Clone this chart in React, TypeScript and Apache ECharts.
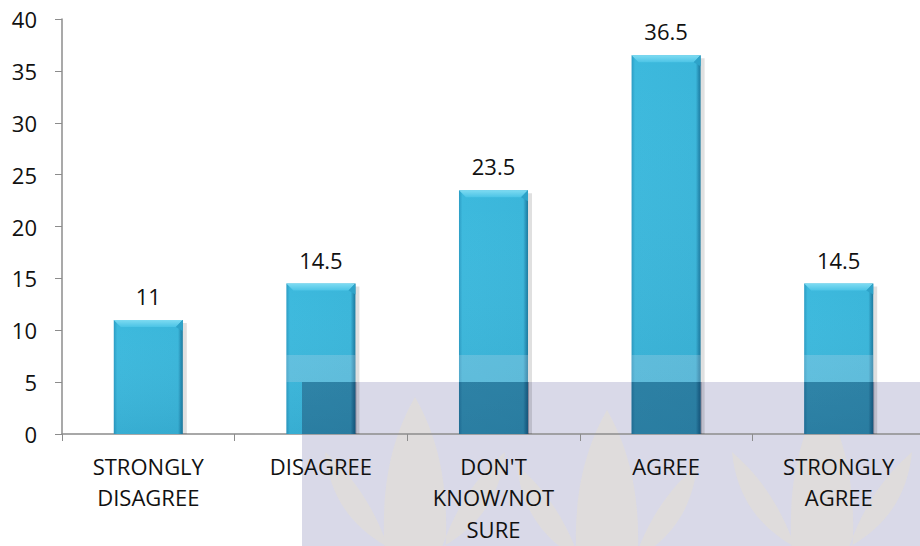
import React, { useEffect, useRef } from "react";
import * as echarts from "echarts";

const categories = ["STRONGLY\nDISAGREE", "DISAGREE", "DON'T\nKNOW/NOT\nSURE", "AGREE", "STRONGLY\nAGREE"];
const values = [11, 14.5, 23.5, 36.5, 14.5];
const yTicks = { min: 0, max: 40, interval: 5 };

const FONT = "'Open Sans', sans-serif";

// watermark boxes (page pixels)
const WM = { x: 302, y: 382, x2: 920, y2: 546 };
const BAND = { x: 285, y: 355, x2: 920, y2: 382 };

const LOTUS =
  "M0,0 C22,35 38,80 34,150 L-34,150 C-38,80 -22,35 0,0 Z " +
  "M-30,150 C-70,130 -95,100 -100,55 C-75,75 -50,100 -30,150 Z " +
  "M30,150 C70,130 95,100 100,55 C75,75 50,100 30,150 Z";

let registered = false;

export default function App() {
  const ref = useRef<HTMLDivElement>(null);
  useEffect(() => {
    if (!ref.current) return;
    if (!registered) {
      echarts.graphic.registerShape("logo", echarts.graphic.extendPath(LOTUS, {}) as any);
      registered = true;
    }
    const chart = echarts.init(ref.current, null, { renderer: "svg" });
    const lotusStyle = { fill: "#efe6c0", opacity: 0.3 };
    chart.setOption({
      animation: false,
      backgroundColor: "#ffffff",
      grid: { left: 62, top: 19, bottom: 112, right: -5, containLabel: false, outerBoundsMode: "none" },
      graphic: [
        {
          type: "rect",
          z: -10,
          shape: { x: WM.x, y: WM.y, width: WM.x2 - WM.x, height: WM.y2 - WM.y },
          style: { fill: "#d9d9e8" },
        },
        { type: "logo", z: -9, x: 415, y: 397, scaleX: 0.9, scaleY: 1.0, style: lotusStyle },
        { type: "logo", z: -9, x: 607, y: 410, scaleX: 0.9, scaleY: 1.0, style: lotusStyle },
        { type: "logo", z: -9, x: 822, y: 397, scaleX: 0.9, scaleY: 1.0, style: lotusStyle },
      ],
      xAxis: {
        type: "category",
        data: categories,
        axisLine: { show: true, lineStyle: { color: "#8c8c8c", width: 1.5 } },
        axisTick: { show: true, length: 7, alignWithLabel: false, lineStyle: { color: "#8c8c8c" } },
        axisLabel: {
          color: "#111",
          fontFamily: FONT,
          fontSize: 22,
          lineHeight: 31.5,
          margin: 16,
          interval: 0,
        },
        splitLine: { show: false },
      },
      yAxis: {
        type: "value",
        min: yTicks.min,
        max: yTicks.max,
        interval: yTicks.interval,
        axisLine: { show: true, lineStyle: { color: "#8c8c8c", width: 1.5 } },
        axisTick: { show: true, length: 7, lineStyle: { color: "#8c8c8c" } },
        axisLabel: { color: "#111", fontFamily: FONT, fontSize: 22, margin: 25 },
        splitLine: { show: false },
      },
      series: [
        {
          type: "custom",
          data: values.map((v, i) => [i, v]),
          renderItem: (params: any, api: any) => {
            const i = api.value(0);
            const v = api.value(1);
            const top = api.coord([i, v]);
            const base = api.coord([i, 0]);
            const bw = api.size([1, 0])[0] * 0.4;
            const x0 = top[0] - bw / 2;
            const x1 = top[0] + bw / 2;
            const y0 = top[1];
            const y1 = base[1];
            const b = 7;
            const children: any[] = [
              {
                type: "rect",
                shape: { x: x0 + 2, y: y0 + 3, width: bw + 2, height: y1 - y0 - 3 },
                style: { fill: "rgba(0,0,0,0.12)" },
              },
              {
                type: "rect",
                shape: { x: x0, y: y0, width: bw, height: y1 - y0 },
                style: {
                  fill: new echarts.graphic.LinearGradient(0, 0, 1, 0, [
                    { offset: 0, color: "#2a9cc4" },
                    { offset: 0.05, color: "#3cb9dd" },
                    { offset: 0.93, color: "#3ab6da" },
                    { offset: 0.97, color: "#2690b6" },
                    { offset: 1, color: "#1b7ba0" },
                  ]),
                },
              },
              {
                type: "rect",
                shape: { x: x0, y: y0, width: bw, height: y1 - y0 },
                style: {
                  fill: new echarts.graphic.LinearGradient(0, 0, 0, 1, [
                    { offset: 0, color: "rgba(255,255,255,0)" },
                    { offset: 1, color: "rgba(0,40,80,0.08)" },
                  ]),
                },
              },
              {
                type: "polygon",
                shape: { points: [[x0, y0], [x1, y0], [x1 - b, y0 + b], [x0 + b, y0 + b]] },
                style: {
                  fill: new echarts.graphic.LinearGradient(0, 0, 0, 1, [
                    { offset: 0, color: "#7edbf2" },
                    { offset: 1, color: "#4cc4e6" },
                  ]),
                },
              },
              {
                type: "polygon",
                shape: { points: [[x1, y0], [x1, y0 + b + 4], [x1 - b, y0 + b]] },
                style: { fill: "#2ea3c9" },
              },
            ];
            const bx0 = Math.max(x0, BAND.x), bx1 = Math.min(x1, BAND.x2);
            const by0 = Math.max(y0, BAND.y), by1 = Math.min(y1, BAND.y2);
            if (bx1 > bx0 && by1 > by0) {
              children.push({
                type: "rect",
                shape: { x: bx0, y: by0, width: bx1 - bx0, height: by1 - by0 },
                style: { fill: "rgba(225,225,235,0.22)" },
              });
            }
            const wx0 = Math.max(x0, WM.x), wx1 = Math.min(x1 + 1, WM.x2);
            const wy0 = Math.max(y0, WM.y), wy1 = Math.min(y1, WM.y2);
            if (wx1 > wx0 && wy1 > wy0) {
              children.push({
                type: "rect",
                shape: { x: wx0, y: wy0, width: wx1 - wx0, height: wy1 - wy0 },
                style: { fill: "rgba(10,4,40,0.28)" },
              });
            }
            children.push({
              type: "text",
              x: top[0],
              y: y0 - 13,
              style: {
                text: String(v),
                fontFamily: FONT,
                fontSize: 22,
                fill: "#111",
                align: "center",
                verticalAlign: "bottom",
              },
            });
            return { type: "group", children };
          },
          z: 2,
        },
      ],
    });
    return () => chart.dispose();
  }, []);
  return (
    <div
      ref={ref}
      style={{ position: "fixed", left: 0, top: 0, width: 920, height: 546 }}
    />
  );
}
